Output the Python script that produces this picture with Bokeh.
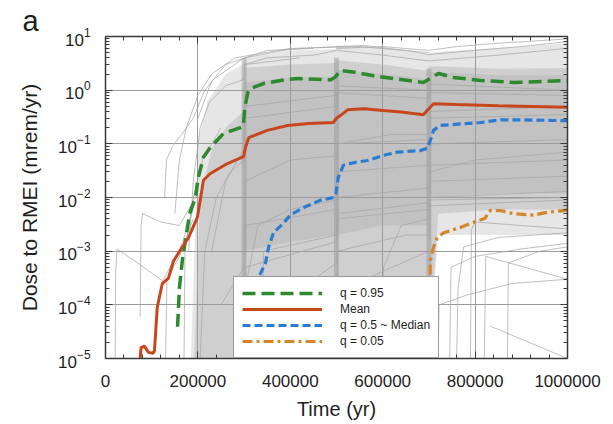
from bokeh.plotting import figure
from bokeh.models import (Range1d, LogAxis, LinearAxis, SingleIntervalTicker, LogTicker,
                          BasicTickFormatter, Legend, LegendItem)
from bokeh.embed import file_html
from bokeh.resources import INLINE

# ---------------- data (time in yr, dose in mrem/yr) ----------------
mean_t = [75000, 77000, 84000, 93000, 103000, 106000, 112000, 123000, 136000, 147000,
          162000, 180000, 199000, 206000, 212000, 227000, 264000, 299000, 303000, 310000,
          350000, 394000, 440000, 493000, 500000, 509000, 524000, 560000, 600000, 640000,
          688000, 700000, 710000, 760000, 850000, 1000000]
mean_v = [1.0e-5, 1.6e-5, 1.7e-5, 1.3e-5, 1.25e-5, 1.4e-5, 8.9e-5, 2.5e-4, 3.1e-4, 6.5e-4,
          1.05e-3, 1.8e-3, 4.3e-3, 1.0e-2, 2.1e-2, 2.8e-2, 4.3e-2, 5.8e-2, 8.6e-2, 0.13,
          0.178, 0.22, 0.24, 0.25, 0.30, 0.34, 0.43, 0.45, 0.42, 0.39,
          0.35, 0.45, 0.56, 0.54, 0.51, 0.48]

q95_t = [156000, 160000, 167000, 173000, 182000, 195000, 200000, 212000, 227000, 255000,
         292000, 298000, 302000, 308000, 314000, 342000, 379000, 415000, 487000, 497000,
         509000, 540000, 580000, 623000, 688000, 700000, 721000, 753000, 812000, 883000,
         950000, 1000000]
q95_v = [3.9e-5, 2.1e-4, 7.6e-4, 1.6e-3, 5.0e-3, 1.0e-2, 2.2e-2, 5.6e-2, 8.6e-2, 0.155,
         0.20, 0.21, 0.50, 0.90, 1.08, 1.33, 1.52, 1.65, 1.55, 1.75,
         2.33, 2.15, 1.85, 1.65, 1.39, 1.60, 2.05, 1.73, 1.52, 1.39,
         1.45, 1.52]

q50_t = [322000, 331000, 346000, 353000, 364000, 385000, 400000, 429000, 465000, 494000,
         499000, 504000, 515000, 540000, 567000, 602000, 632000, 682000, 697000, 705000,
         710000, 725000, 770000, 812000, 855000, 900000, 1000000]
q50_v = [1.0e-5, 3.2e-4, 5.9e-4, 1.18e-3, 2.24e-3, 3.3e-3, 4.7e-3, 6.5e-3, 8.9e-3, 1.0e-2,
         1.2e-2, 2.4e-2, 4.0e-2, 4.5e-2, 4.9e-2, 6.1e-2, 7.0e-2, 7.5e-2, 8.3e-2, 0.13,
         0.178, 0.22, 0.235, 0.25, 0.28, 0.28, 0.27]

q05_t = [700000, 702000, 703000, 710000, 718000, 732000, 768000, 797000, 822000, 828000,
         833000, 855000, 883000, 926000, 957000, 991000, 1000000]
q05_v = [1.0e-5, 1.0e-4, 6.7e-4, 1.18e-3, 1.8e-3, 2.2e-3, 2.76e-3, 3.45e-3, 4.1e-3, 5.3e-3,
         5.7e-3, 5.7e-3, 5.0e-3, 4.7e-3, 5.3e-3, 5.7e-3, 5.8e-3]

# spread of the individual realizations (outer, inner and densest bands)
outer_t = [185000, 200000, 220000, 260000, 298000, 300000, 400000, 498000, 500000, 600000,
           698000, 700000, 720000, 800000, 900000, 1000000]
outer_hi = [1e-5, 0.1, 0.6, 2.0, 3.0, 4.0, 5.5, 5.8, 6.8, 6.2,
            4.6, 5.0, 5.2, 5.8, 6.5, 7.5]
outer_lo = [1e-5, 1e-5, 1e-5, 1e-5, 1e-5, 1e-5, 1e-5, 1e-5, 1e-5, 1e-5,
            1e-5, 1e-5, 2e-3, 2e-3, 2e-3, 2e-3]

mid_t = [192000, 205000, 230000, 260000, 298000, 300000, 400000, 498000, 500000, 600000,
         698000, 700000, 720000, 850000, 1000000]
mid_hi = [1e-5, 0.01, 0.08, 0.2, 0.4, 2.6, 3.0, 3.2, 3.6, 3.0,
          2.3, 2.8, 2.8, 2.5, 2.6]
mid_lo = [1e-5, 1e-5, 1e-5, 1e-5, 1e-5, 1e-5, 1e-5, 1e-5, 1e-5, 1e-5,
          1e-5, 1e-5, 5e-3, 6e-3, 6e-3]

core_t = [300000, 400000, 498000, 500000, 600000, 698000, 700000, 850000, 1000000]
core_hi = [1.4, 1.7, 1.8, 2.4, 2.0, 1.6, 2.2, 1.9, 1.9]
core_lo = [1e-3, 1.5e-3, 2e-3, 2e-3, 3e-3, 3e-3, 1e-2, 1.2e-2, 1.2e-2]

# pile-up of realizations at the release times
spike_t = [300000, 500000, 700000]
spike_top = [4.0, 4.0, 2.5]

# individual realizations
real_t = [
    [21000, 22000, 25000, 76000, 123000, 160000, 190000],
    [75000, 77000, 80000, 120000, 160000, 200000],
    [128000, 132000, 145000, 165000, 190000, 215000, 260000, 350000, 450000],
    [150000, 160000, 175000, 200000, 230000, 280000, 400000, 550000, 700000],
    [130000, 133000, 160000, 190000],
    [170000, 172000, 190000, 210000, 250000],
    [200000, 230000, 300000, 400000, 500000, 560000, 650000, 700000, 800000, 900000, 1000000],
    [300000, 350000, 450000, 500000, 600000, 700000, 850000, 1000000],
    [500000, 600000, 700000, 760000, 850000, 1000000],
    [745000, 748000, 800000, 900000, 1000000],
    [760000, 763000, 775000, 850000, 1000000],
    [790000, 792000, 800000, 900000, 1000000],
    [820000, 823000, 1000000],
    [833000, 1000000],
    [720000, 722000, 780000, 880000, 1000000],
    [870000, 872000, 940000, 1000000],
    [300000, 302000, 400000, 500000, 502000, 700000, 702000, 1000000],
    [250000, 300000, 302000, 500000, 502000, 700000, 702000, 1000000],
    [340000, 342000, 500000, 502000, 700000, 702000, 1000000],
    [420000, 422000, 500000, 502000, 700000, 702000, 1000000],
    [560000, 562000, 700000, 702000, 1000000],
    [230000, 260000, 300000, 302000, 500000, 502000, 700000, 702000, 1000000],
    [280000, 300000, 302000, 500000, 502000, 700000, 702000, 1000000],
    [450000, 452000, 500000, 502000, 650000, 700000, 702000, 1000000],
    [180000, 190000, 205000, 225000, 260000, 300000, 302000, 420000],
    [205000, 215000, 240000, 270000, 300000, 302000, 500000, 502000, 700000, 702000, 1000000],
    [300000, 302000, 330000, 400000, 500000, 502000, 620000, 700000, 702000, 1000000],
    [600000, 602000, 640000, 700000, 702000, 800000, 1000000],
]
real_v = [
    [1e-5, 4e-4, 1.1e-3, 5.5e-4, 2.8e-4, 1e-3, 6e-3],
    [6e-5, 3e-3, 5e-3, 3.5e-3, 3e-3, 1.2e-2],
    [1e-2, 0.05, 0.09, 0.15, 0.3, 1.0, 3.0, 5.5, 6.0],
    [5e-3, 0.05, 0.2, 0.8, 2.0, 4.0, 6.0, 6.5, 5.0],
    [1e-5, 3e-4, 8e-4, 4e-3],
    [1e-5, 1e-3, 0.01, 0.05, 0.2],
    [0.3, 1.5, 4.0, 5.8, 6.5, 6.8, 5.5, 4.6, 5.5, 6.5, 8.0],
    [3.0, 4.0, 4.5, 5.5, 4.5, 3.5, 4.5, 6.0],
    [6.0, 6.5, 5.5, 6.5, 7.5, 9.0],
    [1e-5, 5e-4, 8e-4, 1.1e-3, 1.4e-3],
    [1e-5, 2e-4, 1.2e-3, 1.8e-3, 2.2e-3],
    [1e-5, 2.5e-3, 3.5e-3, 3e-3, 2.6e-3],
    [1e-5, 8e-4, 3e-4],
    [4e-5, 1e-5],
    [1e-5, 1e-4, 1.5e-4, 2.5e-4, 3e-4],
    [1e-5, 6e-4, 1e-3, 1.2e-3],
    [1e-3, 0.02, 0.05, 0.06, 0.1, 0.12, 0.3, 0.35],
    [1e-4, 5e-4, 3e-3, 6e-3, 3e-2, 4e-2, 0.1, 0.12],
    [1e-5, 1e-3, 2e-3, 1e-2, 1.5e-2, 4e-2, 5e-2],
    [1e-5, 2e-4, 6e-4, 5e-3, 8e-3, 2e-2, 2.5e-2],
    [1e-5, 3e-4, 1e-3, 1e-2, 1.3e-2],
    [1e-3, 0.02, 0.08, 0.5, 0.8, 1.2, 1.0, 1.3, 1.0],
    [1e-5, 1e-4, 5e-4, 1.5e-3, 4e-3, 6e-3, 9e-3, 1.0e-2],
    [1e-5, 5e-5, 1e-4, 1e-3, 2e-3, 2e-3, 7e-3, 9e-3],
    [1e-3, 0.02, 0.2, 0.6, 1.2, 1.6, 3.0, 4.0],
    [1e-5, 1e-3, 1e-2, 3e-2, 5e-2, 0.3, 0.5, 0.9, 0.7, 0.9, 0.8],
    [1e-5, 2e-4, 3e-3, 6e-3, 9e-3, 0.1, 0.15, 0.15, 0.4, 0.5],
    [1e-5, 5e-4, 3e-3, 4e-3, 3e-2, 5e-2, 7e-2],
]

# ---------------- figure ----------------
FONT = "Liberation Sans"
INK = "#1e1e1e"
AXIS = "#3a3a3a"

p = figure(width=613, height=424, y_axis_type="log",
           x_range=Range1d(0, 1000000), y_range=Range1d(1e-5, 10),
           output_backend="svg", toolbar_location=None,
           min_border_left=105, min_border_right=46, min_border_top=36, min_border_bottom=66)
p.outline_line_color = None
p.background_fill_color = "white"

# panel letter as the title, pulled left to the page edge
p.title.text = "a"
p.title.align = "left"
p.title.offset = -83
p.title.standoff = 0
p.title.text_font = FONT
p.title.text_font_size = "29px"
p.title.text_font_style = "normal"
p.title.text_color = INK


def style_axis(ax):
    ax.axis_line_color = AXIS
    ax.axis_line_width = 1.5
    ax.major_tick_line_color = AXIS
    ax.minor_tick_line_color = AXIS
    ax.major_tick_in = 7
    ax.major_tick_out = 0
    ax.minor_tick_in = 4
    ax.minor_tick_out = 0


xticker = SingleIntervalTicker(interval=200000, num_minor_ticks=5)
xa = p.xaxis[0]
xa.ticker = xticker
xa.formatter = BasicTickFormatter(use_scientific=False)
style_axis(xa)
xa.major_label_text_font = FONT
xa.major_label_text_font_size = "17px"
xa.major_label_text_color = INK
xa.major_label_standoff = 16
xa.axis_label = "Time (yr)"
xa.axis_label_text_font = FONT
xa.axis_label_text_font_size = "20px"
xa.axis_label_text_font_style = "normal"
xa.axis_label_text_color = INK
xa.axis_label_standoff = 8

ya = p.yaxis[0]
ya.ticker = LogTicker(num_minor_ticks=10)
style_axis(ya)
ya.major_label_text_font = FONT
ya.major_label_text_font_size = "17px"
ya.major_label_text_color = INK
ya.major_label_standoff = 15
ya.axis_label = "Dose to RMEI (mrem/yr)"
ya.axis_label_text_font = FONT
ya.axis_label_text_font_size = "21px"
ya.axis_label_text_font_style = "normal"
ya.axis_label_text_color = INK
ya.axis_label_standoff = 14

# frame ticks on the opposite sides (no labels)
top = LinearAxis(ticker=SingleIntervalTicker(interval=200000, num_minor_ticks=5),
                 major_label_text_color=None, major_label_text_font_size="2px",
                 major_label_standoff=0)
style_axis(top)
p.add_layout(top, "above")
right = LogAxis(ticker=LogTicker(num_minor_ticks=10),
                major_label_text_color=None, major_label_text_font_size="2px",
                major_label_standoff=0)
style_axis(right)
p.add_layout(right, "right")

p.xgrid.ticker = xticker
for g in (p.xgrid[0], p.ygrid[0]):
    g.grid_line_color = "#9c9c9c"
    g.grid_line_width = 1
    g.minor_grid_line_color = None

# realization cloud
p.varea(x=outer_t, y1=outer_lo, y2=outer_hi, fill_color="#9a9a9a", fill_alpha=0.25)
p.varea(x=mid_t, y1=mid_lo, y2=mid_hi, fill_color="#9a9a9a", fill_alpha=0.3)
p.varea(x=core_t, y1=core_lo, y2=core_hi, fill_color="#9a9a9a", fill_alpha=0.25)
p.segment(x0=spike_t, y0=[1e-5] * len(spike_t), x1=spike_t, y1=spike_top,
          line_color="#9a9a9a", line_width=5, line_alpha=0.5)
p.multi_line(xs=real_t, ys=real_v, line_color="#a6a6a6", line_width=0.8, line_alpha=0.9)

# statistics
r95 = p.line(q95_t, q95_v, line_color="#2b8a2b", line_width=3.5, line_dash="13 6")
r50 = p.line(q50_t, q50_v, line_color="#2a7bd2", line_width=3.2, line_dash="8 4")
r05 = p.line(q05_t, q05_v, line_color="#d4862c", line_width=3.2, line_dash="10 4 3 4")
rmean = p.line(mean_t, mean_v, line_color="#c8461c", line_width=3)

legend = Legend(items=[LegendItem(label="q = 0.95", renderers=[r95]),
                       LegendItem(label="Mean", renderers=[rmean]),
                       LegendItem(label="q = 0.5 ~ Median", renderers=[r50]),
                       LegendItem(label="q = 0.05", renderers=[r05])],
                location=(128, 0), margin=0, padding=8, spacing=0,
                glyph_width=80, glyph_height=16, label_height=16, label_standoff=18,
                label_text_font=FONT, label_text_font_size="12px", label_text_color=INK,
                border_line_color="#333333", border_line_width=1,
                background_fill_color="white", background_fill_alpha=1.0)
p.add_layout(legend)

open("out.html", "w").write(file_html(p, INLINE))
